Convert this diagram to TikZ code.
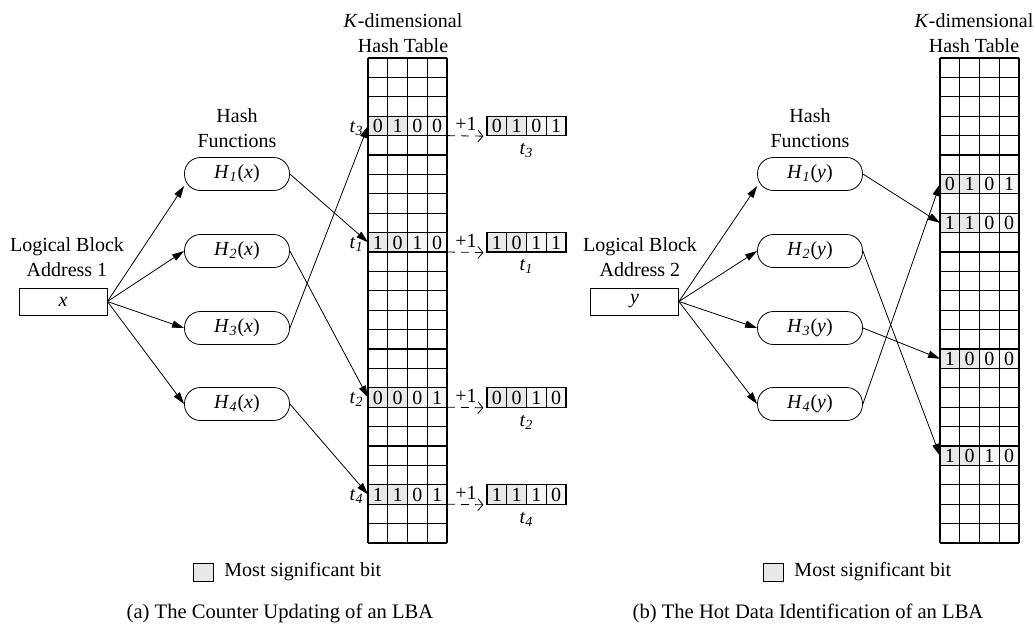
\documentclass[tikz,border=0pt]{standalone}
\usepackage{fontspec}
\setmainfont{Liberation Serif}
\usetikzlibrary{arrows.meta, positioning}

% H_i(v) and t_i in the italic style of the figure
\newcommand{\hfn}[2]{\textit{H}\textsubscript{\textit{#1}}(\textit{#2})}
\newcommand{\tlab}[1]{\textit{t}\textsubscript{\textit{#1}}}
% one row of four bits, top left corner at (#1,#2)
\newcommand{\bitcells}[3]{%
  \fill[gray!18] (#1,#2) rectangle ++(39.5,19.4);
  \fill[gray!7] (#1+39.5,#2) rectangle ++(39.5,19.4);
  \edef\bitlist{#3}%
  \foreach \bitv [count=\bitn from 0] in \bitlist
    \node at (#1+\bitn*19.75+9.9, #2+9.9) {\bitv};
}

\begin{document}
\begin{tikzpicture}[x=0.5pt, y=-0.5pt, font=\fontsize{10}{12.5}\selectfont,
  hashfn/.style={draw, rounded corners=8pt, minimum width=52.5pt, minimum height=16.5pt, inner sep=0pt},
  lba/.style={draw, minimum width=44pt, minimum height=13.5pt, inner sep=0pt},
  hdr/.style={align=center},
  counter/.style={draw, minimum width=39.5pt, minimum height=9.7pt, inner sep=0pt},
  keybox/.style={draw, fill=gray!18, minimum width=10pt, minimum height=9pt, inner sep=0pt},
  pt/.style={-{Triangle[length=6pt,width=3.6pt]}},
  inc/.style={dashed, dash pattern=on 4pt off 3pt, shorten >=1.5pt, -{Straight Barb[length=2.5pt,width=6pt]}}]
\useasboundingbox (0,0) rectangle (1035,623);

% (a) counter updating
\node[hdr] (lbaA) at (67, 257) {Logical Block\\Address 1};
\node[lba] (x) at (63, 301.5) {\textit{x}};
\node[hdr] (hfA) at (237, 128) {Hash\\Functions};
\node[hashfn] (hx1) at (237, 174) {\hfn{1}{x}};
\node[hashfn] (hx2) at (237, 251) {\hfn{2}{x}};
\node[hashfn] (hx3) at (237, 328) {\hfn{3}{x}};
\node[hashfn] (hx4) at (237, 404) {\hfn{4}{x}};
\node[hdr] (tabA) at (403, 33) {\textit{K}-dimensional\\Hash Table};

\bitcells{368}{58+19.4*3}{0,1,0,0}
\bitcells{368}{58+19.4*9}{1,0,1,0}
\bitcells{368}{58+19.4*17}{0,0,0,1}
\bitcells{368}{58+19.4*22}{1,1,0,1}
\foreach \r in {0,...,25}
  \draw[line width=0.6pt] (368, 58+\r*19.4) -- (447, 58+\r*19.4);
\foreach \k in {0,...,4}
  \draw[line width=0.6pt] (368+\k*19.75, 58) -- (368+\k*19.75, 543);

% updated counters next to the table
\foreach \r/\n/\bits in {3/3/{0,1,0,1}, 9/1/{1,0,1,1}, 17/2/{0,0,1,0}, 22/4/{1,1,1,0}} {
  \bitcells{487}{58+19.4*\r}{\bits}
  \node[counter, line width=0.6pt] (cnt\n) at (526.5, 58+19.4*\r+9.7) {};
  \foreach \k in {1,2,3}
    \draw[line width=0.6pt] (487+\k*19.75, 58+19.4*\r) -- (487+\k*19.75, 58+19.4*\r+19.4);
  \node[below=0pt of cnt\n] {\tlab{\n}};
  \coordinate (e\n) at (447, 58+19.4*\r+19.4);
  \draw[inc] (e\n) -- (cnt\n.south west);
  \node at (466, 58+19.4*\r+8) {+1};
  \coordinate (w\n) at (368, 58+19.4*\r+9.7);
  \node[anchor=east, inner sep=1pt] at (366, 58+19.4*\r+12) {\tlab{\n}};
}

\draw[pt] (x.east) -- ([yshift=-6pt]hx1.west);
\draw[pt] (x.east) -- (hx2.west);
\draw[pt] (x.east) -- (hx3.west);
\draw[pt] (x.east) -- (hx4.west);
\draw[pt] (hx1.east) -- (w1);
\draw[pt] (hx2.east) -- (w2);
\draw[pt] (hx3.east) -- (w3);
\draw[pt] (hx4.east) -- (w4);

\node[keybox] (keyA) at (203, 572) {};
\node[right=2pt of keyA] {Most significant bit};
\node[font=\fontsize{10.3}{12}\selectfont] (capA) at (280, 613) {(a) The Counter Updating of an LBA};

% (b) hot data identification
\node[hdr] (lbaB) at (640, 257) {Logical Block\\Address 2};
\node[lba] (y) at (634.5, 301.5) {\textit{y}};
\node[hdr] (hfB) at (810, 128) {Hash\\Functions};
\node[hashfn] (hy1) at (810, 174) {\hfn{1}{y}};
\node[hashfn] (hy2) at (810, 251) {\hfn{2}{y}};
\node[hashfn] (hy3) at (810, 328) {\hfn{3}{y}};
\node[hashfn] (hy4) at (810, 404) {\hfn{4}{y}};
\node[hdr] (tabB) at (974, 33) {\textit{K}-dimensional\\Hash Table};

\foreach \r/\bits in {6/{0,1,0,1}, 8/{1,1,0,0}, 15/{1,0,0,0}, 20/{1,0,1,0}} {
  \bitcells{940}{58+19.4*\r}{\bits}
  \coordinate (v\r) at (940, 58+19.4*\r+9.7);
}
\foreach \r in {0,...,25}
  \draw[line width=0.6pt] (940, 58+\r*19.4) -- (1019, 58+\r*19.4);
\foreach \k in {0,...,4}
  \draw[line width=0.6pt] (940+\k*19.75, 58) -- (940+\k*19.75, 543);

\draw[pt] (y.east) -- ([yshift=-6pt]hy1.west);
\draw[pt] (y.east) -- (hy2.west);
\draw[pt] (y.east) -- (hy3.west);
\draw[pt] (y.east) -- (hy4.west);
\draw[pt] (hy1.east) -- (v8);
\draw[pt] (hy2.east) -- (v20);
\draw[pt] (hy3.east) -- (v15);
\draw[pt] (hy4.east) -- (v6);

\node[keybox] (keyB) at (773, 572) {};
\node[right=2pt of keyB] {Most significant bit};
\node[font=\fontsize{10.3}{12}\selectfont] (capB) at (808, 613) {(b) The Hot Data Identification of an LBA};
\end{tikzpicture}
\end{document}
